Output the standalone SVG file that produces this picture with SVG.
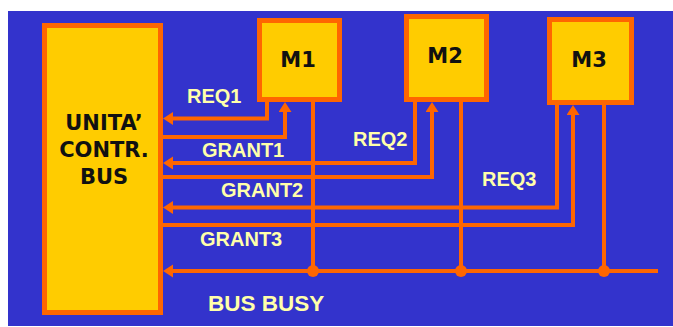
<svg xmlns="http://www.w3.org/2000/svg" width="673" height="327" viewBox="0 0 673 327">
<style>
.box{fill:#FFCC00;stroke:#FF6600;stroke-width:5}
.bt{font-family:"DejaVu Sans",Verdana,sans-serif;font-weight:bold;font-size:21px;fill:#111;text-anchor:middle}
.ln{fill:none;stroke:#FF6600;stroke-width:4}
.arr{marker-end:url(#ah)}
.lb{font-family:"Liberation Sans",Arial,sans-serif;font-weight:bold;font-size:20px;fill:#FFFFAA}
</style>
<defs>
<marker id="ah" markerUnits="userSpaceOnUse" markerWidth="12" markerHeight="14" refX="2" refY="6.5" orient="auto">
<path d="M0,0 L10,6.5 L0,13 z" fill="#FF6600"/>
</marker>
</defs>
<rect x="0" y="0" width="673" height="327" fill="#FFFFFF"/>
<rect x="8" y="11" width="665" height="315" fill="#3333CC"/>

<g id="connectors">
<path class="ln arr" d="M267,102 V118.5 H171"/>
<path class="ln arr" d="M161,137 H285 V110"/>
<path class="ln arr" d="M415,102 V163 H171"/>
<path class="ln arr" d="M161,177 H432 V110"/>
<path class="ln arr" d="M557,105 V207.5 H171"/>
<path class="ln arr" d="M161,225 H573 V113"/>
<path class="ln arr" d="M658,271 H171"/>
<path class="ln" d="M313,102 V271"/>
<path class="ln" d="M461,102 V271"/>
<path class="ln" d="M604,105 V271"/>
<circle cx="313" cy="271" r="6" fill="#FF6600"/>
<circle cx="461" cy="271" r="6" fill="#FF6600"/>
<circle cx="604" cy="271" r="6" fill="#FF6600"/>
</g>

<g id="ucb">
<rect class="box" x="44.5" y="25.5" width="116" height="287"/>
<text class="bt" x="104" y="130">UNITA’</text>
<text class="bt" x="104" y="157">CONTR.</text>
<text class="bt" x="104" y="184">BUS</text>
</g>
<g id="m1">
<rect class="box" x="259.5" y="20.5" width="80" height="79"/>
<text class="bt" x="298" y="67">M1</text>
</g>
<g id="m2">
<rect class="box" x="406.5" y="16.5" width="80" height="83"/>
<text class="bt" x="445" y="63">M2</text>
</g>
<g id="m3">
<rect class="box" x="549.5" y="19.5" width="82" height="83"/>
<text class="bt" x="589" y="67">M3</text>
</g>

<g id="labels">
<text class="lb" x="187" y="103">REQ1</text>
<text class="lb" x="202" y="157">GRANT1</text>
<text class="lb" x="353" y="146">REQ2</text>
<text class="lb" x="221" y="197">GRANT2</text>
<text class="lb" x="482" y="186">REQ3</text>
<text class="lb" x="200" y="246">GRANT3</text>
<text class="lb" x="208" y="311" style="font-size:22.5px">BUS BUSY</text>
</g>
</svg>
